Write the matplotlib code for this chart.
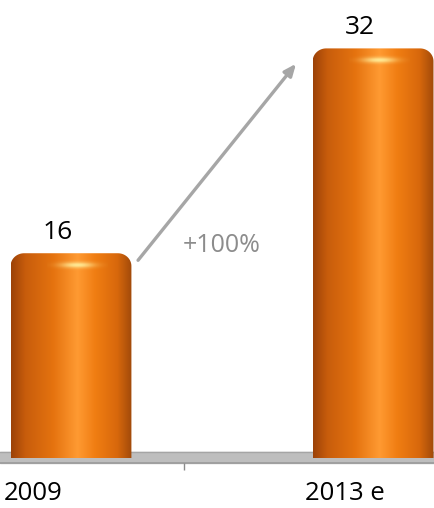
import numpy as np
import matplotlib
matplotlib.use("Agg")
import matplotlib.pyplot as plt
from matplotlib.patches import Polygon
from matplotlib.colors import LinearSegmentedColormap

plt.rcParams['font.family'] = ['Open Sans', 'DejaVu Sans']

categories = ["2009", "2013 e"]
values = [16, 32]
growth_label = "+100%"

x = np.arange(len(categories))
bar_w = 0.4

fig = plt.figure(figsize=(4.35, 5.08), dpi=100)
ax = fig.add_axes([0, 0, 1, 1])
ax.axis('off')

# horizontal shading of the cylinder
cyl = LinearSegmentedColormap.from_list("cyl", [
    (0.00, "#9c4208"), (0.12, "#c85d0c"), (0.35, "#e5730f"),
    (0.55, "#ff9a32"), (0.70, "#f07d12"), (0.88, "#d8680c"), (1.00, "#a14a0a")])
grad = cyl(np.linspace(0, 1, 256))[None, :, :]

# highlight glow near the top
gx = np.linspace(-1, 1, 80)
gy = np.linspace(-1, 1, 20)
GX, GY = np.meshgrid(gx, gy)
glow = np.zeros((20, 80, 4))
glow[..., 0] = 1.0
glow[..., 1] = 0.93
glow[..., 2] = 0.6
glow[..., 3] = np.exp(-(GX**2) * 3.5 - (GY**2) * 4) * 0.95


def cylinder(xc, h):
    x0, x1 = xc - bar_w / 2, xc + bar_w / 2
    rx, ry = 0.045, 1.0
    t = np.linspace(0, np.pi / 2, 20)
    right = np.column_stack([x1 - rx + rx * np.cos(t), h - ry + ry * np.sin(t)])
    t = np.linspace(np.pi / 2, np.pi, 20)
    left = np.column_stack([x0 + rx + rx * np.cos(t), h - ry + ry * np.sin(t)])
    verts = np.vstack([[[x0, 0], [x1, 0]], right, left])
    patch = Polygon(verts, closed=True, facecolor='none', edgecolor='none')
    ax.add_patch(patch)
    im = ax.imshow(grad, extent=(x0, x1, 0, h), aspect='auto', origin='lower',
                   interpolation='bilinear', zorder=3)
    im.set_clip_path(patch)
    ax.imshow(glow, extent=(xc - 0.08, xc + 0.12, h - 1.35, h - 0.45), aspect='auto',
              origin='lower', interpolation='bilinear', zorder=4)


for xi, v in zip(x, values):
    cylinder(xi, v)
    ax.text(xi - 0.045, v + 1.15, str(v), ha='center', va='baseline',
            fontsize=19, color='black', zorder=5)

# base plate
ax.axhspan(-0.39, 0.47, color='#bebebe', zorder=1)
ax.axhline(0.47, color='#a5a5a5', lw=1, zorder=1)
ax.axhline(-0.39, color='#9a9a9a', lw=1.2, zorder=1)
ax.vlines(0.374, -0.94, -0.39, color='#8a8a8a', lw=1)

for xi, lab in zip([-0.126, 0.907], categories):
    ax.text(xi, -2.75, lab, ha='center', va='center', fontsize=18.5, color='black')

ax.annotate("", xy=(0.745, 30.8), xytext=(0.222, 15.45),
            arrowprops=dict(arrowstyle='-|>,head_length=0.7,head_width=0.3',
                            color='#a6a6a6', lw=2.4, shrinkA=0, shrinkB=0))
ax.text(0.5, 16.6, growth_label, ha='center', va='center', fontsize=18, color='#8c8c8c')

ax.set_xlim(-0.235, 1.205)
ax.set_ylim(-3.9, 35.78)

fig.savefig("out.png", dpi=100)
